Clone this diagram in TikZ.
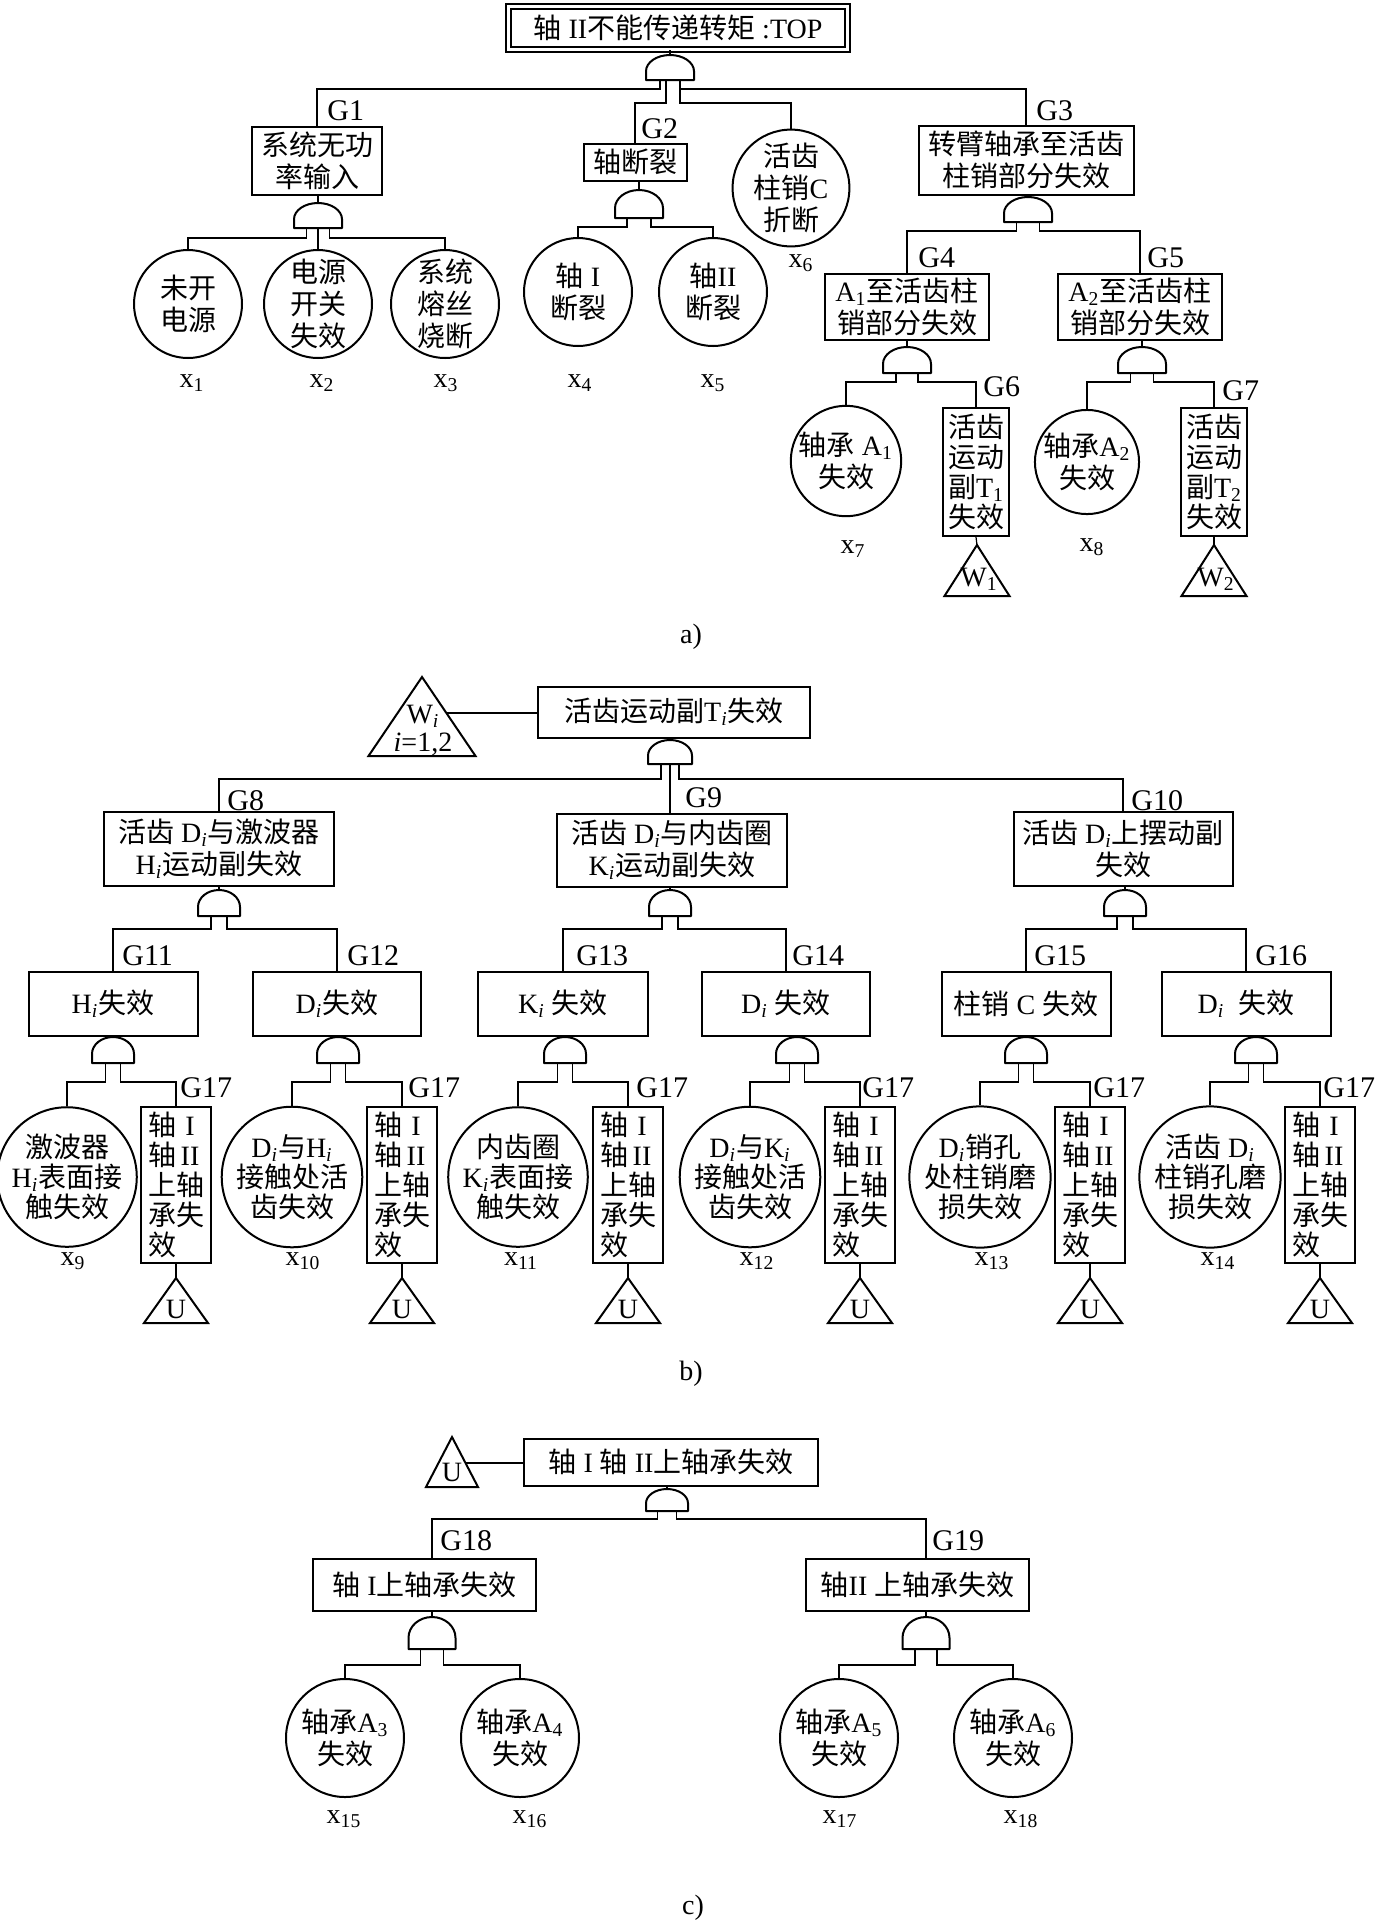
\documentclass[tikz,border=0pt]{standalone}
\usepackage{fontspec}
\setmainfont{Liberation Serif}
\newfontfamily\cjk{Noto Sans CJK SC}
\XeTeXinterchartokenstate=1
\newXeTeXintercharclass\cjkclass
\newcount\cjkc
\cjkc="4E00
\loop
  \XeTeXcharclass\cjkc=\cjkclass
  \advance\cjkc by 1
\ifnum\cjkc<"A000 \repeat
\XeTeXinterchartoks 0 \cjkclass = {\cjk}
\XeTeXinterchartoks 4095 \cjkclass = {\cjk}
\XeTeXinterchartoks \cjkclass 0 = {\rmfamily}
\XeTeXinterchartoks \cjkclass 4095 = {\rmfamily}
\newcommand\fs{\fontsize{14pt}{16pt}\selectfont}
\newcommand\fsc{\fontsize{14pt}{15pt}\selectfont}
\newcommand\fsn{\fontsize{14pt}{15pt}\selectfont}
\newcommand\fg{\fontsize{15pt}{17pt}\selectfont}
\newcommand\sbs[1]{\textsubscript{#1}}
\newcommand\subi{\textsubscript{\textit{i}}}
\newcommand\colbox[1]{\makebox[14pt]{#1}}
\begin{document}
\begin{tikzpicture}[x=0.5pt,y=-0.5pt,
  conn/.style={line width=0.6pt},
  ebox/.style={draw,line width=1pt,inner sep=0pt,align=center,font=\fs},
  nbox/.style={draw,line width=1pt,inner sep=0pt,align=left,font=\fsn,minimum width=35pt,minimum height=78pt},
  evt/.style={draw,circle,line width=1pt,inner sep=0pt,align=center,font=\fs},
  gatel/.style={line width=1pt,line join=round},
  tri/.style={line width=1pt,line join=miter},
  glab/.style={anchor=base west,inner sep=0pt,font=\fg},
  xlab/.style={anchor=base,inner sep=0pt,font=\fs},
  ttxt/.style={inner sep=0pt,font=\fs},
  pics/andg/.style n args={3}{code={
    \draw[gatel] (-#1,#2) -- (-#1,{0.65*#2}) .. controls (-#1,{0.65*#2*0.448}) and ({-0.552*#1},0) .. (0,0)
      .. controls ({0.552*#1},0) and (#1,{0.65*#2*0.448}) .. (#1,{0.65*#2}) -- (#1,#2) -- cycle;
    \coordinate (-t) at (0,0);
    \coordinate (-c) at (0,#2);
    \coordinate (-l) at (-#3,#2);
    \coordinate (-r) at (#3,#2);
    \coordinate (-l2) at ({-0.4*#3},#2);
  }}
]
\fill[white] (0,0) rectangle (1378,1924);
\useasboundingbox (0,0) rectangle (1378,1924);

% ================= a) =================
\node[draw,double,line width=0.9pt,double distance=1.6pt,inner sep=0pt,minimum width=169.5pt,minimum height=21.5pt,font=\fs] (top) at (678,28) {轴 II不能传递转矩 :TOP};
\pic (ggT) at (670,55) {andg={24}{25}{10}};
\coordinate (hA1) at (0,89);
\coordinate (hA2) at (0,103);

\node[ebox,minimum width=65pt,minimum height=34pt] (g1) at (317,161) {系统无功\\率输入};
\node[ebox,minimum width=51.5pt,minimum height=18.5pt] (g2) at (635,162) {轴断裂};
\node[evt,minimum size=53pt] (x6) at (791,188) {活齿\\柱销C\\折断};
\node[ebox,minimum width=107.5pt,minimum height=34.5pt] (g3) at (1026,160) {转臂轴承至活齿\\柱销部分失效};
\node[glab] (lG1) at (327,120) {G1};
\node[glab] (lG2) at (641,138) {G2};
\node[glab] (lG3) at (1036,120) {G3};
\node[xlab] (lx6) at (801,267) {x\sbs{6}};

\pic (gg1) at (318,203) {andg={24}{25}{11.5}};
\coordinate (hB1) at (0,238);
\node[evt,minimum size=54pt] (x1) at (188,304) {未开\\电源};
\node[evt,minimum size=54pt] (x2) at (318,304) {电源\\开关\\失效};
\node[evt,minimum size=54pt] (x3) at (445,304) {系统\\熔丝\\烧断};
\node[xlab] (lx1) at (192,387) {x\sbs{1}};
\node[xlab] (lx2) at (322,387) {x\sbs{2}};
\node[xlab] (lx3) at (446,387) {x\sbs{3}};

\pic (gg2) at (639,190) {andg={24}{28}{12}};
\coordinate (hB2) at (0,227);
\node[evt,minimum size=54pt] (x4) at (578,292) {轴 I\\断裂};
\node[evt,minimum size=54pt] (x5) at (713,292) {轴II\\断裂};
\node[xlab] (lx4) at (580,387) {x\sbs{4}};
\node[xlab] (lx5) at (713,387) {x\sbs{5}};

\pic (gg3) at (1028,197) {andg={24}{25}{11.5}};
\coordinate (hB3) at (0,231);
\node[ebox,minimum width=82pt,minimum height=33pt] (g4) at (907,307) {A\sbs{1}至活齿柱\\销部分失效};
\node[ebox,minimum width=82pt,minimum height=33pt] (g5) at (1140,307) {A\sbs{2}至活齿柱\\销部分失效};
\node[glab] (lG4) at (918,267) {G4};
\node[glab] (lG5) at (1147,267) {G5};

\pic (gg4) at (907,347) {andg={24}{26}{11}};
\pic (gg5) at (1142,347) {andg={24}{26}{11.5}};
\coordinate (hB4) at (0,382);
\node[evt,minimum size=51pt] (x7) at (846,461) {轴承 A\sbs{1}\\失效};
\node[ebox,font=\fsn,minimum width=33pt,minimum height=64pt] (g6) at (976,472) {活齿\\运动\\副T\sbs{1}\\失效};
\node[evt,minimum size=52pt] (x8) at (1087,462) {轴承A\sbs{2}\\失效};
\node[ebox,font=\fsn,minimum width=33pt,minimum height=64pt] (g7) at (1214,472) {活齿\\运动\\副T\sbs{2}\\失效};
\node[glab] (lG6) at (983,396) {G6};
\node[glab] (lG7) at (1222,400) {G7};
\node[xlab] (lx7) at (853,553) {x\sbs{7}};
\node[xlab] (lx8) at (1092,551) {x\sbs{8}};

\coordinate (w1) at (977,545);
\draw[tri] (w1) -- ++(-32.5,51) -- ++(65,0) -- cycle;
\node[ttxt] (w1t) at (979,579) {W\sbs{1}};
\coordinate (w2) at (1214,545);
\draw[tri] (w2) -- ++(-32.5,51) -- ++(65,0) -- cycle;
\node[ttxt] (w2t) at (1216,579) {W\sbs{2}};

\draw[conn] (ggT-t |- top.south) -- (ggT-t);
\draw[conn] (ggT-l) -- (ggT-l |- hA1) -| (g1.north);
\draw[conn] (ggT-l2) -- (ggT-l2 |- hA2) -| (g2.north);
\draw[conn] (ggT-r) -- (ggT-r |- hA1) -| (g3.north);
\draw[conn] (ggT-r) -- (ggT-r |- hA2) -| (x6.north);
\draw[conn] (gg1-t |- g1.south) -- (gg1-t);
\draw[conn] (gg1-l) -- (gg1-l |- hB1) -| (x1.north);
\draw[conn] (gg1-c) -- (gg1-c |- x2.north);
\draw[conn] (gg1-r) -- (gg1-r |- hB1) -| (x3.north);
\draw[conn] (gg2-t |- g2.south) -- (gg2-t);
\draw[conn] (gg2-l) -- (gg2-l |- hB2) -| (x4.north);
\draw[conn] (gg2-r) -- (gg2-r |- hB2) -| (x5.north);
\draw[conn] (gg3-t |- g3.south) -- (gg3-t);
\draw[conn] (gg3-l) -- (gg3-l |- hB3) -| (g4.north);
\draw[conn] (gg3-r) -- (gg3-r |- hB3) -| (g5.north);
\draw[conn] (gg4-t |- g4.south) -- (gg4-t);
\draw[conn] (gg4-l) -- (gg4-l |- hB4) -| (x7.north);
\draw[conn] (gg4-r) -- (gg4-r |- hB4) -| (g6.north);
\draw[conn] (gg5-t |- g5.south) -- (gg5-t);
\draw[conn] (gg5-l) -- (gg5-l |- hB4) -| (x8.north);
\draw[conn] (gg5-r) -- (gg5-r |- hB4) -| (g7.north);
\draw[conn] (g6.south) -- (w1);
\draw[conn] (g7.south) -- (w2);

\node[inner sep=0pt,font=\fs] (capa) at (691,637) {a)};

% ================= b) =================
\coordinate (wi) at (422,677);
\draw[tri] (wi) -- ++(-53.5,79) -- ++(107,0) -- cycle;
\node[ttxt] (wit1) at (423,716) {W\subi};
\node[ttxt] (wit2) at (423,744) {\textit{i}=1,2};
\coordinate (wiR) at (447,713);
\node[ebox,minimum width=136pt,minimum height=25.5pt] (ti) at (674,712) {活齿运动副T\subi 失效};
\draw[conn] (wiR) -- (wiR -| ti.west);
\pic (ggti) at (670,740) {andg={22}{24}{9}};
\coordinate (hC1) at (0,779);

\node[ebox,minimum width=115pt,minimum height=37pt] (g8) at (219,849) {活齿 D\subi 与激波器\\H\subi 运动副失效};
\node[ebox,minimum width=115pt,minimum height=36.5pt] (g9) at (672,850) {活齿 D\subi 与内齿圈\\K\subi 运动副失效};
\node[ebox,minimum width=109.5pt,minimum height=37pt] (g10) at (1123,849) {活齿 D\subi 上摆动副\\失效};
\node[glab] (lG8) at (227,810) {G8};
\node[glab] (lG9) at (685,807) {G9};
\node[glab] (lG10) at (1131,810) {G10};

\pic (gg8) at (219,890) {andg={21}{26}{8}};
\pic (gg9) at (670,890) {andg={21}{26}{8}};
\pic (gg10) at (1125,890) {andg={21}{26}{8}};
\coordinate (hC2) at (0,929);

\node[ebox,minimum width=84.5pt,minimum height=32pt] (g11) at (113,1004) {H\subi 失效};
\node[ebox,minimum width=84pt,minimum height=32pt] (g12) at (337,1004) {D\subi 失效};
\node[ebox,minimum width=85pt,minimum height=32pt] (g13) at (563,1004) {K\subi\ 失效};
\node[ebox,minimum width=84pt,minimum height=32pt] (g14) at (786,1004) {D\subi\ 失效};
\node[ebox,minimum width=84.5pt,minimum height=32pt] (g15) at (1026,1004) {柱销 C 失效};
\node[ebox,minimum width=84.5pt,minimum height=32pt] (g16) at (1246,1004) {D\subi\ \ 失效};
\node[glab] (lG11) at (122,965) {G11};
\node[glab] (lG12) at (347,965) {G12};
\node[glab] (lG13) at (576,965) {G13};
\node[glab] (lG14) at (792,965) {G14};
\node[glab] (lG15) at (1034,965) {G15};
\node[glab] (lG16) at (1255,965) {G16};

\pic (gg11) at (113,1037) {andg={21}{26}{7.5}};
\pic (gg12) at (338,1037) {andg={21}{26}{7.5}};
\pic (gg13) at (565,1037) {andg={21}{26}{7.5}};
\pic (gg14) at (797,1037) {andg={21}{26}{7.5}};
\pic (gg15) at (1026,1037) {andg={21}{26}{7.5}};
\pic (gg16) at (1256,1037) {andg={21}{26}{7.5}};
\coordinate (hC3) at (0,1082);

\node[evt,font=\fsc,minimum size=64pt] (x9) at (67,1177) {激波器\\H\subi 表面接\\触失效};
\node[evt,font=\fsc,minimum size=64pt] (x10) at (292,1177) {D\subi 与H\subi\\接触处活\\齿失效};
\node[evt,font=\fsc,minimum size=64pt] (x11) at (518,1177) {内齿圈\\K\subi 表面接\\触失效};
\node[evt,font=\fsc,minimum size=64pt] (x12) at (750,1177) {D\subi 与K\subi\\接触处活\\齿失效};
\node[evt,font=\fsc,minimum size=64pt] (x13) at (980,1177) {D\subi 销孔\\处柱销磨\\损失效};
\node[evt,font=\fsc,minimum size=64pt] (x14) at (1210,1177) {活齿 D\subi\\柱销孔磨\\损失效};
\node[xlab] (lx9) at (73,1265) {x\sbs{9}};
\node[xlab] (lx10) at (303,1265) {x\sbs{10}};
\node[xlab] (lx11) at (521,1265) {x\sbs{11}};
\node[xlab] (lx12) at (757,1265) {x\sbs{12}};
\node[xlab] (lx13) at (992,1265) {x\sbs{13}};
\node[xlab] (lx14) at (1218,1265) {x\sbs{14}};

\foreach \n/\xx/\lx in {a/176/180, b/402/408, c/628/636, d/860/862, e/1090/1093, f/1320/1323}{
  \node[nbox] (g17\n) at (\xx,1185) {轴\colbox{I}\\轴\colbox{II}\\上轴\\承失\\效};
  \node[glab] (lG17\n) at (\lx,1097) {G17};
  \coordinate (u\n) at (\xx,1278);
  \draw[tri] (u\n) -- ++(-32,45) -- ++(64,0) -- cycle;
  \node[ttxt] (ut\n) at (\xx,1309) {U};
  \draw[conn] (g17\n.south) -- (u\n);
}

\draw[conn] (ggti-t |- ti.south) -- (ggti-t);
\draw[conn] (ggti-l) -- (ggti-l |- hC1) -| (g8.north);
\draw[conn] (ggti-c) -- (ggti-c |- g9.north);
\draw[conn] (ggti-r) -- (ggti-r |- hC1) -| (g10.north);
\foreach \p/\a/\b in {8/11/12, 9/13/14, 10/15/16}{
  \draw[conn] (gg\p-t |- g\p.south) -- (gg\p-t);
  \draw[conn] (gg\p-l) -- (gg\p-l |- hC2) -| (g\a.north);
  \draw[conn] (gg\p-r) -- (gg\p-r |- hC2) -| (g\b.north);
}
\foreach \p/\a/\b in {11/x9/g17a, 12/x10/g17b, 13/x11/g17c, 14/x12/g17d, 15/x13/g17e, 16/x14/g17f}{
  \draw[conn] (gg\p-t |- g\p.south) -- (gg\p-t);
  \draw[conn] (gg\p-l) -- (gg\p-l |- hC3) -| (\a.north);
  \draw[conn] (gg\p-r) -- (gg\p-r |- hC3) -| (\b.north);
}

\node[inner sep=0pt,font=\fs] (capb) at (691,1374) {b)};

% ================= c) =================
\coordinate (uc) at (452,1437);
\draw[tri] (uc) -- ++(-26,50) -- ++(52,0) -- cycle;
\node[ttxt] (uct) at (452,1472) {U};
\coordinate (ucR) at (465,1463);
\node[ebox,minimum width=147pt,minimum height=23.5pt] (top3) at (671,1462) {轴 I 轴 II上轴承失效};
\draw[conn] (ucR) -- (ucR -| top3.west);
\pic (ggc) at (667,1489) {andg={21}{22}{9.5}};
\coordinate (hD1) at (0,1519);

\node[ebox,minimum width=111.5pt,minimum height=26pt] (g18) at (424.5,1585) {轴 I上轴承失效};
\node[ebox,minimum width=111.5pt,minimum height=26pt] (g19) at (917.5,1585) {轴II 上轴承失效};
\node[glab] (lG18) at (440,1550) {G18};
\node[glab] (lG19) at (932,1550) {G19};
\pic (gg18) at (432,1617) {andg={23.5}{32}{11.5}};
\pic (gg19) at (926,1617) {andg={23.5}{32}{11}};
\coordinate (hD2) at (0,1665);

\node[evt,minimum size=59pt] (x15) at (345,1738) {轴承A\sbs{3}\\失效};
\node[evt,minimum size=59pt] (x16) at (520,1738) {轴承A\sbs{4}\\失效};
\node[evt,minimum size=59pt] (x17) at (839,1738) {轴承A\sbs{5}\\失效};
\node[evt,minimum size=59pt] (x18) at (1013,1738) {轴承A\sbs{6}\\失效};
\node[xlab] (lx15) at (344,1823) {x\sbs{15}};
\node[xlab] (lx16) at (530,1823) {x\sbs{16}};
\node[xlab] (lx17) at (840,1823) {x\sbs{17}};
\node[xlab] (lx18) at (1021,1823) {x\sbs{18}};

\draw[conn] (ggc-t |- top3.south) -- (ggc-t);
\draw[conn] (ggc-l) -- (ggc-l |- hD1) -| (gg18-t |- g18.north);
\draw[conn] (ggc-r) -- (ggc-r |- hD1) -| (gg19-t |- g19.north);
\draw[conn] (gg18-t |- g18.south) -- (gg18-t);
\draw[conn] (gg18-l) -- (gg18-l |- hD2) -| (x15.north);
\draw[conn] (gg18-r) -- (gg18-r |- hD2) -| (x16.north);
\draw[conn] (gg19-t |- g19.south) -- (gg19-t);
\draw[conn] (gg19-l) -- (gg19-l |- hD2) -| (x17.north);
\draw[conn] (gg19-r) -- (gg19-r |- hD2) -| (x18.north);

\node[inner sep=0pt,font=\fs] (capc) at (693,1908) {c)};
\end{tikzpicture}
\end{document}
